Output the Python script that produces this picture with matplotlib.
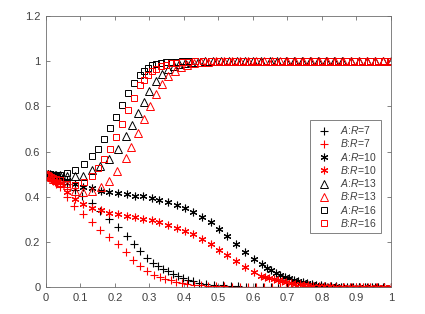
import matplotlib
matplotlib.use("Agg")
import matplotlib.pyplot as plt

plt.rcParams['font.family'] = ['Liberation Sans', 'DejaVu Sans']
plt.rcParams['mathtext.fontset'] = 'custom'
plt.rcParams['mathtext.rm'] = 'Liberation Sans'
plt.rcParams['mathtext.it'] = 'Liberation Sans:italic'

# ---------------- data ----------------
a7_x = [0, 0.006, 0.012, 0.018, 0.024, 0.03, 0.04, 0.06, 0.083, 0.106, 0.134, 0.158, 0.183, 0.208, 0.234,
        0.254, 0.273, 0.294, 0.311, 0.326, 0.34, 0.355, 0.369, 0.383, 0.398, 0.412, 0.427, 0.445, 0.465,
        0.488, 0.512, 0.535, 0.558, 0.581, 0.605, 0.628, 0.651, 0.674, 0.698, 0.721, 0.744, 0.767, 0.791,
        0.814, 0.837, 0.86, 0.884, 0.907, 0.93, 0.953, 0.977, 1.0]
a7_y = [0.5, 0.497, 0.493, 0.489, 0.485, 0.48, 0.472, 0.455, 0.43, 0.404, 0.372, 0.337, 0.301, 0.265, 0.228,
        0.19, 0.158, 0.128, 0.106, 0.091, 0.08, 0.069, 0.057, 0.047, 0.04, 0.032, 0.025, 0.019, 0.014,
        0.01, 0.007, 0.005, 0.003, 0.002, 0.001, 0.001, 0, 0, 0, 0, 0, 0, 0,
        0, 0, 0, 0, 0, 0, 0, 0, 0]

b7_x = [0, 0.005, 0.01, 0.015, 0.02, 0.025, 0.03, 0.04, 0.06, 0.082, 0.108, 0.134, 0.158, 0.184, 0.208,
        0.232, 0.253, 0.274, 0.294, 0.314, 0.33, 0.346, 0.362, 0.378, 0.394, 0.41, 0.428, 0.448, 0.47,
        0.493, 0.516, 0.54, 0.563, 0.586, 0.609, 0.632, 0.655, 0.679, 0.702, 0.725, 0.748, 0.771, 0.795,
        0.818, 0.841, 0.864, 0.888, 0.911, 0.934, 0.957, 0.98, 1.0]
b7_y = [0.5, 0.493, 0.485, 0.477, 0.47, 0.463, 0.456, 0.443, 0.398, 0.357, 0.324, 0.289, 0.254, 0.221, 0.189,
        0.153, 0.121, 0.094, 0.073, 0.054, 0.045, 0.037, 0.03, 0.024, 0.019, 0.015, 0.011, 0.008, 0.006,
        0.004, 0.003, 0.002, 0.001, 0.001, 0, 0, 0, 0, 0, 0, 0, 0, 0,
        0, 0, 0, 0, 0, 0, 0, 0, 0]

a10_x = [0, 0.005, 0.01, 0.015, 0.02, 0.025, 0.03, 0.04, 0.06, 0.085, 0.108, 0.133, 0.159, 0.184, 0.209,
         0.234, 0.257, 0.282, 0.307, 0.329, 0.354, 0.379, 0.404, 0.427, 0.453, 0.478, 0.501, 0.526, 0.551,
         0.576, 0.602, 0.627, 0.64, 0.653, 0.666, 0.679, 0.692, 0.705, 0.718, 0.731, 0.744, 0.757, 0.77,
         0.783, 0.796, 0.81, 0.825, 0.84, 0.856, 0.873, 0.89, 0.908, 0.926, 0.944, 0.962, 0.981, 1.0]
a10_y = [0.5, 0.499, 0.498, 0.497, 0.496, 0.494, 0.492, 0.488, 0.475, 0.458, 0.445, 0.437, 0.425, 0.42, 0.416,
         0.411, 0.405, 0.401, 0.394, 0.387, 0.377, 0.365, 0.352, 0.333, 0.311, 0.287, 0.258, 0.224, 0.189,
         0.156, 0.124, 0.1, 0.086, 0.074, 0.064, 0.055, 0.046, 0.039, 0.032, 0.026, 0.021, 0.017, 0.013,
         0.01, 0.008, 0.006, 0.004, 0.003, 0.002, 0.001, 0.001, 0, 0, 0, 0, 0, 0]

b10_x = [0, 0.005, 0.01, 0.015, 0.02, 0.025, 0.03, 0.04, 0.06, 0.085, 0.108, 0.133, 0.159, 0.184, 0.209,
         0.234, 0.257, 0.282, 0.307, 0.329, 0.354, 0.379, 0.404, 0.427, 0.453, 0.478, 0.501, 0.526, 0.551,
         0.576, 0.602, 0.622, 0.635, 0.647, 0.66, 0.672, 0.685, 0.697, 0.71, 0.722, 0.735, 0.748, 0.76,
         0.775, 0.79, 0.806, 0.822, 0.84, 0.86, 0.88, 0.9, 0.92, 0.94, 0.96, 0.98, 1.0]
b10_y = [0.5, 0.495, 0.49, 0.485, 0.48, 0.475, 0.47, 0.46, 0.419, 0.389, 0.369, 0.351, 0.339, 0.328, 0.322,
         0.316, 0.31, 0.302, 0.295, 0.286, 0.275, 0.262, 0.25, 0.234, 0.214, 0.19, 0.166, 0.14, 0.113,
         0.088, 0.065, 0.05, 0.044, 0.039, 0.034, 0.029, 0.025, 0.021, 0.018, 0.015, 0.012, 0.01, 0.008,
         0.006, 0.005, 0.004, 0.003, 0.002, 0.001, 0.001, 0, 0, 0, 0, 0, 0]

a13_x = [0, 0.006, 0.012, 0.02, 0.03, 0.04, 0.06, 0.085, 0.108, 0.135, 0.158, 0.184, 0.208, 0.232, 0.249,
         0.267, 0.283, 0.3, 0.319, 0.337, 0.354, 0.37, 0.386, 0.402, 0.42, 0.44, 0.46, 0.483, 0.507,
         0.53, 0.554, 0.577, 0.601, 0.624, 0.648, 0.671, 0.695, 0.718, 0.742, 0.765, 0.789, 0.812, 0.836,
         0.859, 0.883, 0.906, 0.93, 0.953, 0.977, 1.0]
a13_y = [0.5, 0.5, 0.499, 0.498, 0.496, 0.494, 0.49, 0.49, 0.492, 0.516, 0.534, 0.566, 0.611, 0.669, 0.717,
         0.77, 0.82, 0.867, 0.912, 0.945, 0.966, 0.979, 0.987, 0.992, 0.996, 0.998, 0.999, 1, 1,
         1, 1, 1, 1, 1, 1, 1, 1, 1, 1, 1, 1, 1, 1,
         1, 1, 1, 1, 1, 1, 1]

b13_x = [0, 0.005, 0.01, 0.015, 0.02, 0.03, 0.04, 0.06, 0.085, 0.108, 0.133, 0.159, 0.184, 0.207, 0.232,
         0.248, 0.266, 0.284, 0.301, 0.319, 0.337, 0.355, 0.373, 0.391, 0.41, 0.43, 0.45, 0.47, 0.493,
         0.516, 0.539, 0.562, 0.585, 0.608, 0.631, 0.654, 0.677, 0.7, 0.723, 0.746, 0.769, 0.792, 0.815,
         0.838, 0.861, 0.884, 0.907, 0.93, 0.953, 0.977, 1.0]
b13_y = [0.5, 0.496, 0.49, 0.485, 0.48, 0.472, 0.465, 0.45, 0.424, 0.419, 0.424, 0.443, 0.469, 0.512, 0.571,
         0.622, 0.681, 0.743, 0.802, 0.855, 0.9, 0.935, 0.958, 0.974, 0.985, 0.991, 0.995, 0.998, 0.999,
         1, 1, 1, 1, 1, 1, 1, 1, 1, 1, 1, 1, 1, 1,
         1, 1, 1, 1, 1, 1, 1, 1]

a16_x = [0, 0.006, 0.012, 0.02, 0.03, 0.04, 0.06, 0.085, 0.11, 0.133, 0.151, 0.168, 0.186, 0.203, 0.22,
         0.238, 0.255, 0.272, 0.284, 0.296, 0.308, 0.32, 0.333, 0.347, 0.362, 0.378, 0.395, 0.413, 0.433,
         0.455, 0.478, 0.501, 0.524, 0.547, 0.57, 0.593, 0.616, 0.639, 0.662, 0.685, 0.708, 0.731, 0.754,
         0.777, 0.8, 0.823, 0.846, 0.869, 0.892, 0.915, 0.938, 0.961, 0.98, 1.0]
a16_y = [0.5, 0.5, 0.499, 0.498, 0.497, 0.497, 0.504, 0.519, 0.543, 0.578, 0.611, 0.655, 0.702, 0.755, 0.808,
         0.858, 0.903, 0.938, 0.957, 0.971, 0.981, 0.988, 0.992, 0.995, 0.997, 0.998, 0.999, 0.999, 1,
         1, 1, 1, 1, 1, 1, 1, 1, 1, 1, 1, 1, 1, 1,
         1, 1, 1, 1, 1, 1, 1, 1, 1, 1, 1]

b16_x = [0, 0.005, 0.01, 0.015, 0.02, 0.03, 0.04, 0.06, 0.085, 0.11, 0.133, 0.151, 0.168, 0.186, 0.203,
         0.22, 0.238, 0.255, 0.272, 0.284, 0.296, 0.308, 0.32, 0.333, 0.347, 0.362, 0.378, 0.395, 0.413,
         0.433, 0.455, 0.478, 0.501, 0.524, 0.547, 0.57, 0.593, 0.616, 0.639, 0.662, 0.685, 0.708, 0.731,
         0.754, 0.777, 0.8, 0.823, 0.846, 0.869, 0.892, 0.915, 0.938, 0.961, 0.98, 1.0]
b16_y = [0.5, 0.496, 0.492, 0.488, 0.484, 0.478, 0.472, 0.455, 0.452, 0.463, 0.492, 0.525, 0.569, 0.611, 0.666,
         0.72, 0.785, 0.835, 0.894, 0.918, 0.94, 0.955, 0.967, 0.977, 0.985, 0.99, 0.994, 0.997, 0.998,
         0.999, 1, 1, 1, 1, 1, 1, 1, 1, 1, 1, 1, 1, 1,
         1, 1, 1, 1, 1, 1, 1, 1, 1, 1, 1, 1]

labels = [r'$A$:$R$=7', r'$B$:$R$=7', r'$A$:$R$=10', r'$B$:$R$=10',
          r'$A$:$R$=13', r'$B$:$R$=13', r'$A$:$R$=16', r'$B$:$R$=16']
x_ticks = [0, 0.1, 0.2, 0.3, 0.4, 0.5, 0.6, 0.7, 0.8, 0.9, 1]
x_tick_labels = ['0', '0.1', '0.2', '0.3', '0.4', '0.5', '0.6', '0.7', '0.8', '0.9', '1']
y_ticks = [0, 0.2, 0.4, 0.6, 0.8, 1.0, 1.2]
y_tick_labels = ['0', '0.2', '0.4', '0.6', '0.8', '1', '1.2']

series = [(a7_x, a7_y), (b7_x, b7_y), (a10_x, a10_y), (b10_x, b10_y),
          (a13_x, a13_y), (b13_x, b13_y), (a16_x, a16_y), (b16_x, b16_y)]

# ---------------- style ----------------
colors = ['black', 'red'] * 4
ast = (6, 2, 0)
markers = ['+', '+', ast, ast, '^', '^', 's', 's']
msizes = [6, 6, 5.5, 5.5, 5.5, 5.5, 4.5, 4.5]

fig = plt.figure(figsize=(4.25, 3.14), dpi=100)
ax = fig.add_axes([0.108, 0.086, 0.812, 0.863])

for (xs, ys), c, m, ms, lab in zip(series, colors, markers, msizes, labels):
    if m in ('^', 's'):
        ax.plot(xs, ys, linestyle='none', marker=m, markersize=ms, markerfacecolor='none',
                markeredgecolor=c, markeredgewidth=0.7, label=lab)
    else:
        ax.plot(xs, ys, linestyle='none', marker=m, markersize=ms, color=c,
                markeredgewidth=0.8, label=lab)

ax.set_xlim(0, 1)
ax.set_ylim(0, 1.2)
ax.set_xticks(x_ticks)
ax.set_xticklabels(x_tick_labels)
ax.set_yticks(y_ticks)
ax.set_yticklabels(y_tick_labels)

axis_col = '#6e6e6e'
for s in ax.spines.values():
    s.set_color(axis_col)
    s.set_linewidth(0.6)
ax.tick_params(direction='in', length=3, width=0.6, colors=axis_col, labelcolor='#404040',
               labelsize=8, top=True, right=True, pad=4)

leg = ax.legend(loc='lower left', bbox_to_anchor=(0.765, 0.199), fontsize=7.5,
                frameon=True, fancybox=False, framealpha=1, edgecolor=axis_col,
                handlelength=2.0, handletextpad=0.5, borderpad=0.4, labelspacing=0.12,
                borderaxespad=0)
leg.get_frame().set_linewidth(0.6)
for t in leg.get_texts():
    t.set_color('#404040')

fig.savefig('out.png', dpi=100)
